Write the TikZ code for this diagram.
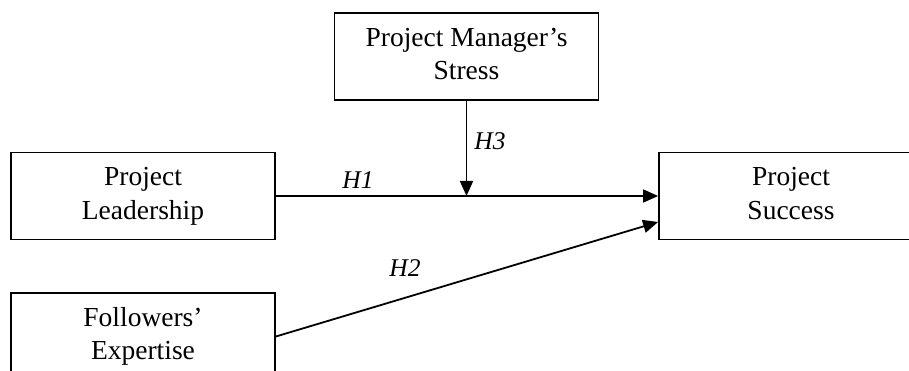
\documentclass[tikz,border=0pt]{standalone}
\usepackage{fontspec}
\setmainfont{Liberation Serif}
\usetikzlibrary{arrows.meta,calc}
\begin{document}
\begin{tikzpicture}[x=1pt,y=-1pt,
  box/.style={draw,line width=1.8pt,minimum width=264pt,minimum height=87pt,inner sep=0pt,align=center,font=\fontsize{27.5}{33.5}\selectfont},
  conn/.style={line width=1.8pt,-{Triangle[length=15pt,width=13pt]}},
  hlab/.style={font=\fontsize{25.5}{30}\selectfont\itshape}]
\useasboundingbox (0,0) rectangle (909,371);
\clip (0,0) rectangle (909,371);
\node[box] (lead) at (143,196) {\strut Project\\Leadership\strut};
\node[box] (foll) at (143,336.5) {\strut Followers’\\Expertise\strut};
\node[box] (man) at (466.5,56.5) {\strut Project Manager’s\\Stress\strut};
\node[box] (succ) at (791,196) {\strut Project\\Success\strut};
\coordinate (h2end) at ($(succ.west)+(0,26)$);
\draw[conn] (lead.east) -- (succ.west);
\draw[conn] (foll.east) -- (h2end);
\draw[conn] (man.south) -- (man.south |- lead.east);
\node[hlab] (h1) at (358,180) {H1};
\node[hlab] (h3) at (490,141) {H3};
\node[hlab] (h2) at (405,268) {H2};
\end{tikzpicture}
\end{document}
